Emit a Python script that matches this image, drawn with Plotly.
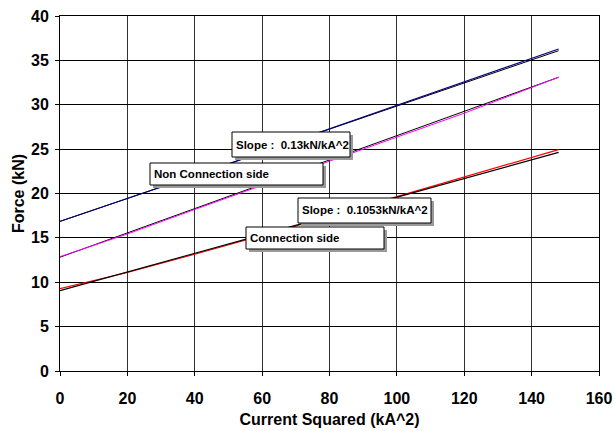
import plotly.graph_objects as go

# ---- data ----
current_sq = [0, 20, 40, 60, 80, 100, 120, 148]
non_conn_measured = [16.87, 19.40, 22.00, 24.65, 27.30, 30.00, 32.65, 36.28]
non_conn_other = [12.88, 15.44, 18.20, 20.96, 23.65, 26.35, 29.05, 33.10]
conn_measured = [9.27, 11.10, 13.15, 15.25, 17.40, 19.64, 21.83, 24.95]

trend_x = [0, 148]
non_conn_intercept, non_conn_slope = 16.85, 0.13
other_intercept, other_slope = 12.82, 0.137
conn_intercept, conn_slope = 9.05, 0.1053

x_ticks = [0, 20, 40, 60, 80, 100, 120, 140, 160]
y_ticks = [0, 5, 10, 15, 20, 25, 30, 35, 40]

labels = ["Slope :\u00a0\u00a00.13kN/kA^2", "Non Connection side",
          "Slope :\u00a0\u00a00.1053kN/kA^2", "Connection side"]

# ---- figure ----
W, H = 613, 431
ML, MR, MT, MB = 60, 14, 16, 60
PW, PH = W - ML - MR, H - MT - MB

fig = go.Figure()
fig.add_trace(go.Scatter(x=trend_x, y=[non_conn_intercept + non_conn_slope * v for v in trend_x],
                         mode="lines", line=dict(color="black", width=1), showlegend=False))
fig.add_trace(go.Scatter(x=current_sq, y=non_conn_measured, mode="lines",
                         line=dict(color="#000080", width=1.2), showlegend=False))
fig.add_trace(go.Scatter(x=trend_x, y=[other_intercept + other_slope * v for v in trend_x],
                         mode="lines", line=dict(color="black", width=1), showlegend=False))
fig.add_trace(go.Scatter(x=current_sq, y=non_conn_other, mode="lines",
                         line=dict(color="#FF00FF", width=1), showlegend=False))
fig.add_trace(go.Scatter(x=current_sq, y=conn_measured, mode="lines",
                         line=dict(color="#FF0000", width=1.2), showlegend=False))
fig.add_trace(go.Scatter(x=trend_x, y=[conn_intercept + conn_slope * v for v in trend_x],
                         mode="lines", line=dict(color="black", width=1.1), showlegend=False))

# label boxes in pixel layout coordinates: (left, top, right, bottom)
boxes = [(232, 132, 350, 157), (150, 163, 323, 185), (298, 198, 431, 223), (246, 227, 384, 249)]

def px_x(p):
    return (p - ML) / PW

def px_y(p):
    return (H - MB - p) / PH

shapes = []
annotations = []
for (l, t, r, b), txt in zip(boxes, labels):
    shapes.append(dict(type="rect", xref="paper", yref="paper",
                       x0=px_x(l + 3), x1=px_x(r + 3), y0=px_y(b + 3), y1=px_y(t + 3),
                       fillcolor="#9a9a9a", line=dict(width=0), layer="above"))
    shapes.append(dict(type="rect", xref="paper", yref="paper",
                       x0=px_x(l), x1=px_x(r), y0=px_y(b), y1=px_y(t),
                       fillcolor="white", line=dict(color="black", width=1), layer="above"))
    annotations.append(dict(xref="paper", yref="paper", x=px_x(l + 2), y=px_y((t + b) / 2),
                            xanchor="left", yanchor="middle", text=txt, showarrow=False,
                            align="left",
                            font=dict(family="Liberation Sans", size=11.5, color="black",
                                      weight="bold")))

axis_font = dict(family="Liberation Sans", size=16, color="black", weight="bold")
title_font = dict(family="Liberation Sans", size=16, color="black", weight="bold")

fig.update_layout(
    width=W, height=H,
    margin=dict(l=ML, r=MR, t=MT, b=MB, pad=0),
    paper_bgcolor="white", plot_bgcolor="white",
    shapes=shapes, annotations=annotations,
    xaxis=dict(range=[0, 160], tickvals=x_ticks, ticktext=[str(v) for v in x_ticks],
               showgrid=True, gridcolor="#333333", gridwidth=1, automargin=False,
               showline=True, linecolor="black", linewidth=1, mirror=True,
               ticks="outside", ticklen=4, tickcolor="black",
               tickfont=axis_font, ticklabelstandoff=9, zeroline=False,
               title=dict(text="Current Squared (kA^2)", font=title_font, standoff=7)),
    yaxis=dict(range=[0, 40], tickvals=y_ticks, ticktext=[str(v) for v in y_ticks],
               showgrid=True, gridcolor="black", gridwidth=1, automargin=False,
               showline=True, linecolor="black", linewidth=1, mirror=True,
               ticks="outside", ticklen=4, tickcolor="black",
               tickfont=axis_font, ticklabelstandoff=3, zeroline=False,
               title=dict(text="Force (kN)", font=title_font, standoff=2)),
)

fig.write_html("out.html")
